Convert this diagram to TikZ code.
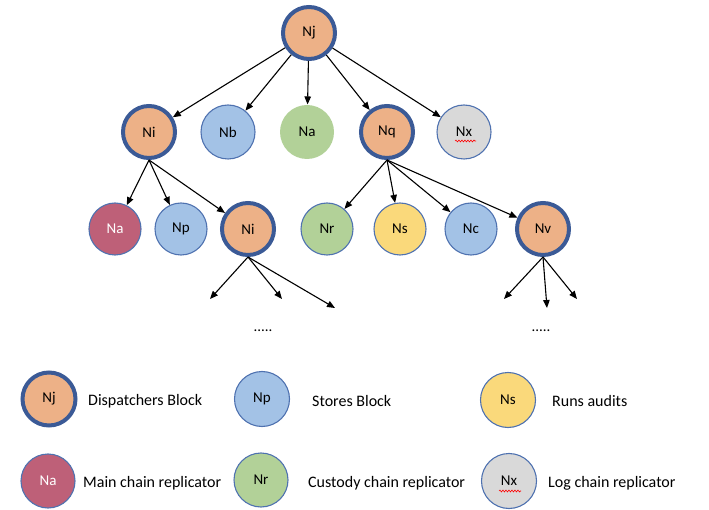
\documentclass[tikz,border=0pt]{standalone}
\usepackage{fontspec}
\setmainfont{Carlito}
\usetikzlibrary{arrows.meta,decorations.pathmorphing}
\definecolor{cOrange}{HTML}{EDB187}
\definecolor{cBlue}{HTML}{A3C2E6}
\definecolor{cGreen}{HTML}{B2D198}
\definecolor{cRed}{HTML}{BE6078}
\definecolor{cYellow}{HTML}{FAD97B}
\definecolor{cGray}{HTML}{D9D9D9}
\definecolor{cBorder}{HTML}{3B5A96}
\definecolor{cThin}{HTML}{4F72B0}
\tikzset{
  nd/.style={circle,inner sep=0pt,font=\fontsize{15}{18}\selectfont},
  disp/.style={nd,fill=cOrange,draw=cBorder,line width=4pt,minimum size=52pt},
  thin/.style={nd,draw=cThin,line width=1.1pt},
  store/.style={thin,fill=cBlue},
  mainrep/.style={thin,fill=cRed,text=white},
  custrep/.style={thin,fill=cGreen},
  audit/.style={thin,fill=cYellow},
  logrep/.style={thin,fill=cGray},
  arr/.style={-{Triangle[length=8pt,width=6.5pt]},line width=1.1pt,black},
  lbl/.style={anchor=west,inner sep=0pt,font=\fontsize{16}{19}\selectfont},
  dots/.style={inner sep=0pt,font=\fontsize{15}{18}\selectfont},
  squig/.style={red,line width=0.6pt,decorate,decoration={snake,amplitude=0.9pt,segment length=3pt}}
}
\begin{document}
\begin{tikzpicture}[x=1pt,y=-1pt]
\useasboundingbox (0,0) rectangle (709,510);
% tree
\node[disp] (Nj) at (309,33) {Nj};
\node[disp] (Ni1) at (149,132) {Ni};
\node[store,minimum size=54pt] (Nb) at (228,132) {Nb};
\node[custrep,draw=none,minimum size=54pt] (Na1) at (307,132) {Na};
\node[disp] (Nq) at (387,132) {Nq};
\node[logrep,minimum size=54pt] (Nx) at (464,132) {Nx};
\node[mainrep,minimum size=52pt] (Na2) at (115,229) {Na};
\node[store,minimum size=52pt] (Np) at (181,229) {Np};
\node[disp] (Ni2) at (248,229) {Ni};
\node[custrep,minimum size=52pt] (Nr) at (327,229) {Nr};
\node[audit,minimum size=52pt] (Ns) at (400,229) {Ns};
\node[store,minimum size=52pt] (Nc) at (471,229) {Nc};
\node[disp] (Nv) at (543,229) {Nv};
\draw[squig] (455,141) -- (476,141);
% connectors
\foreach \t in {Ni1,Nb,Na1,Nq,Nx} \draw[arr] (Nj) -- (\t);
\foreach \t in {Na2,Np,Ni2} \draw[arr] (Ni1.south) -- (\t);
\foreach \t in {Nr,Ns,Nc,Nv} \draw[arr] (Nq.south) -- (\t);
\coordinate (a1) at (210,299);
\coordinate (a2) at (282,299);
\coordinate (a3) at (335,308);
\coordinate (b1) at (504,299);
\coordinate (b2) at (547,308);
\coordinate (b3) at (577,299);
\foreach \t in {a1,a2,a3} \draw[arr] (Ni2.south) -- (\t);
\foreach \t in {b1,b2,b3} \draw[arr] (Nv.south) -- (\t);
\node[dots] (d1) at (263,331) {.....};
\node[dots] (d2) at (541,331) {.....};
% legend
\node[disp,minimum size=53pt] (LNj) at (49,399) {Nj};
\node[lbl] (TNj) at (88,401) {Dispatchers Block};
\node[store,minimum size=55pt] (LNp) at (262,399) {Np};
\node[lbl] (TNp) at (312,401) {Stores Block};
\node[audit,minimum size=55pt] (LNs) at (508,400) {Ns};
\node[lbl] (TNs) at (552,401) {Runs audits};
\node[mainrep,minimum size=54pt] (LNa) at (48,481) {Na};
\node[lbl] (TNa) at (83,483) {Main chain replicator};
\node[custrep,minimum size=54pt] (LNr) at (261,480) {Nr};
\node[lbl] (TNr) at (308,483) {Custody chain replicator};
\node[logrep,minimum size=55pt] (LNx) at (509,481) {Nx};
\node[lbl] (TNx) at (548,483) {Log chain replicator};
\draw[squig] (499,491) -- (521,491);
\end{tikzpicture}
\end{document}
